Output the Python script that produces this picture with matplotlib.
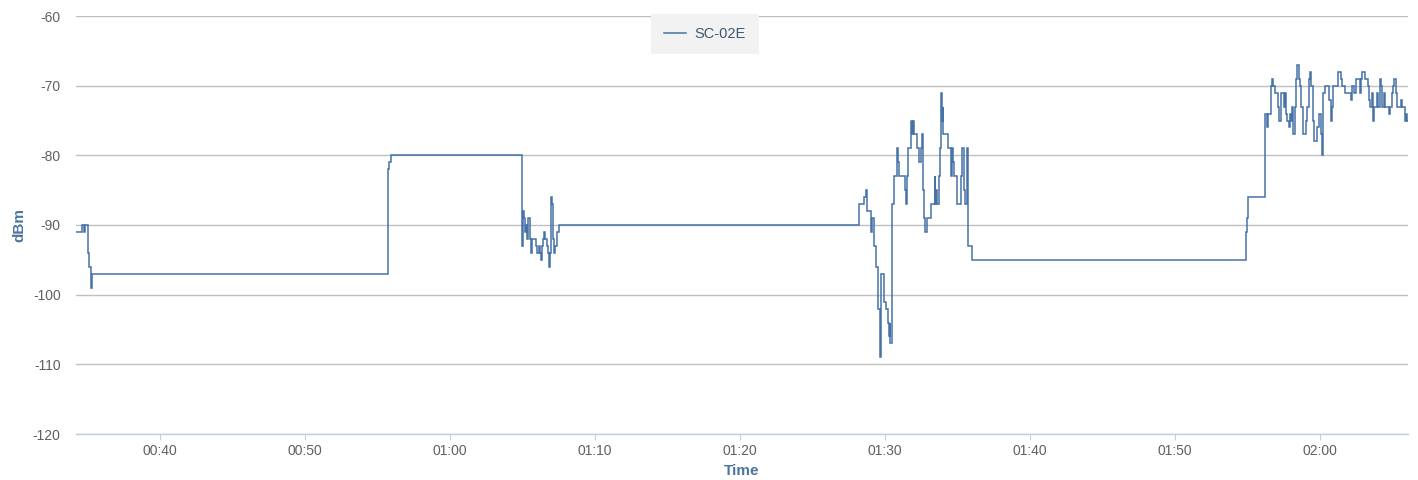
import datetime as dt
import matplotlib
matplotlib.use("Agg")
import matplotlib.pyplot as plt
import matplotlib.dates as mdates
from matplotlib.lines import Line2D

# ---- data -------------------------------------------------------------
series_name = "SC-02E"
# time of each sample, minutes after 00:00
minutes = [
    34.21, 34.62, 34.76, 34.83, 35.03, 35.10, 35.21, 35.28,
    55.72, 55.79, 55.93,
    64.94, 65.06, 65.12, 65.17, 65.24, 65.29, 65.36, 65.40, 65.52, 65.59,
    65.66, 65.93, 66.02, 66.12, 66.21, 66.28, 66.34, 66.43, 66.50, 66.57,
    66.67, 66.74, 66.83, 66.90, 66.97, 67.01, 67.08, 67.17, 67.26, 67.36, 67.54,
    88.21, 88.57, 88.67, 88.76, 89.01, 89.08, 89.26, 89.36, 89.54, 89.63,
    89.72, 89.91, 90.09, 90.23, 90.28, 90.32, 90.37,
    90.46, 90.64, 90.81, 90.88, 90.97, 91.38, 91.47, 91.54, 91.61, 91.77,
    91.84, 91.91, 92.00, 92.24, 92.37, 92.46, 92.53, 92.60, 92.64, 92.71,
    92.78, 92.88, 93.15, 93.43, 93.47, 93.54, 93.61, 93.70, 93.79, 93.86,
    93.93, 93.98, 94.02, 94.32, 94.55, 94.64, 94.71, 94.78, 94.94, 95.24,
    95.31, 95.47, 95.54, 95.63, 95.70, 95.76, 95.98,
    114.90, 114.97, 115.06,
    116.21, 116.32, 116.43, 116.60, 116.69, 116.78, 116.88, 117.12, 117.19,
    117.29, 117.52, 117.59, 117.66, 117.74, 117.84, 117.93, 118.02, 118.09,
    118.16, 118.26, 118.34, 118.43, 118.53, 118.62, 118.71, 118.81, 119.03,
    119.12, 119.22, 119.31, 119.40, 119.50, 119.59, 119.77, 119.95, 120.05,
    120.14, 120.23, 120.32, 120.60, 120.74, 120.83, 120.92,
    121.26, 121.45, 121.54, 121.72, 122.14, 122.23, 122.32, 122.50, 122.74,
    122.83, 122.92, 123.10, 123.29, 123.38, 123.47, 123.57, 123.66, 123.74,
    123.93, 124.02, 124.12, 124.21, 124.30, 124.39, 124.48, 124.76, 124.85,
    124.94, 125.03, 125.12, 125.22, 125.31, 125.59, 125.68, 125.86, 125.95,
    126.00, 126.05,
]
dbm = [
    -91, -90, -91, -90, -94, -96, -99, -97,
    -82, -81, -80,
    -93, -88, -89, -91, -90, -92, -91, -89, -92, -94,
    -92, -93, -94, -93, -94, -95, -93, -92, -91, -92,
    -93, -94, -96, -94, -86, -87, -92, -94, -93, -91, -90,
    -87, -86, -85, -88, -91, -89, -93, -96, -102, -109,
    -97, -101, -102, -104, -106, -104, -107,
    -87, -83, -79, -81, -83, -85, -87, -83, -79, -75,
    -77, -75, -77, -79, -81, -79, -77, -79, -85, -89,
    -91, -89, -87, -83, -87, -85, -87, -83, -79, -71,
    -75, -73, -77, -79, -83, -79, -81, -83, -87, -83,
    -79, -85, -87, -79, -83, -93, -95,
    -91, -89, -86,
    -74, -76, -74, -70, -69, -70, -71, -73, -75,
    -71, -73, -71, -74, -75, -76, -74, -75, -73,
    -77, -73, -69, -67, -69, -70, -73, -77, -75,
    -73, -69, -68, -70, -75, -78, -76, -74, -77,
    -80, -71, -70, -72, -75, -73, -70,
    -68, -69, -70, -71, -72, -70, -71, -69, -71,
    -69, -68, -69, -70, -72, -73, -71, -75, -73,
    -71, -73, -69, -70, -73, -71, -73, -74, -73,
    -71, -70, -69, -71, -73, -72, -73, -75, -74,
    -75, -75,
]
x_range_minutes = [34.21, 126.07]
y_ticks = [-120, -110, -100, -90, -80, -70, -60]
x_title = "Time"
y_title = "dBm"

# ---- style ------------------------------------------------------------
plt.rcParams["font.family"] = ["Liberation Sans", "DejaVu Sans"]
plt.rcParams["axes.unicode_minus"] = False
LINE = "#4572A7"
GRID = "#C0C0C0"
AXIS = "#C0D0E0"
LABEL = "#606060"
TITLE = "#4D759E"

base = dt.datetime(2024, 1, 1)
times = [base + dt.timedelta(minutes=m) for m in minutes]

fig = plt.figure(figsize=(14.18, 4.80), dpi=100)
ax = fig.add_axes([76 / 1418, 1 - 434 / 480, (1408 - 76) / 1418, (434 - 16) / 480])

ax.plot(times, dbm, drawstyle="steps-post", color=LINE, lw=1.1,
        solid_joinstyle="miter", label=series_name)

ax.set_xlim(base + dt.timedelta(minutes=x_range_minutes[0]),
            base + dt.timedelta(minutes=x_range_minutes[1]))
ax.set_ylim(y_ticks[0], y_ticks[-1])
ax.set_yticks(y_ticks)
ax.xaxis.set_major_locator(mdates.MinuteLocator(byminute=range(0, 60, 10)))
ax.xaxis.set_major_formatter(mdates.DateFormatter("%H:%M"))

ax.grid(axis="y", color=GRID, lw=1.0)
ax.set_axisbelow(True)
for s in ("top", "right", "left"):
    ax.spines[s].set_visible(False)
ax.spines["bottom"].set_color(AXIS)
ax.spines["bottom"].set_linewidth(1.0)

ax.tick_params(axis="y", length=0, pad=11, labelsize=10, labelcolor=LABEL)
ax.tick_params(axis="x", length=4.5, width=0.8, color=AXIS, pad=3,
               labelsize=10, labelcolor=LABEL)

ax.set_xlabel(x_title, fontsize=11, fontweight="bold", color=TITLE)
ax.set_ylabel(y_title, fontsize=11, fontweight="bold", color=TITLE)
ax.xaxis.set_label_coords((742 - 76) / 1332, (434 - 471) / 418)
ax.yaxis.set_label_coords((19 - 76) / 1332, (434 - 225) / 418)
ax.xaxis.label.set_va("center")
ax.yaxis.label.set_va("center")

handle = Line2D([0], [0], color=LINE, lw=1.1)
leg = fig.legend([handle], [series_name], loc="center",
                 bbox_to_anchor=(705 / 1418, 1 - 34 / 480),
                 frameon=True, fancybox=False, fontsize=10.5,
                 handlelength=1.5, handletextpad=0.55, borderpad=0.9,
                 borderaxespad=0)
leg.get_frame().set_facecolor("#F2F2F2")
leg.get_frame().set_edgecolor("none")
leg.get_frame().set_alpha(1)
for t in leg.get_texts():
    t.set_color("#3E576F")

fig.savefig("out.png", dpi=100)
